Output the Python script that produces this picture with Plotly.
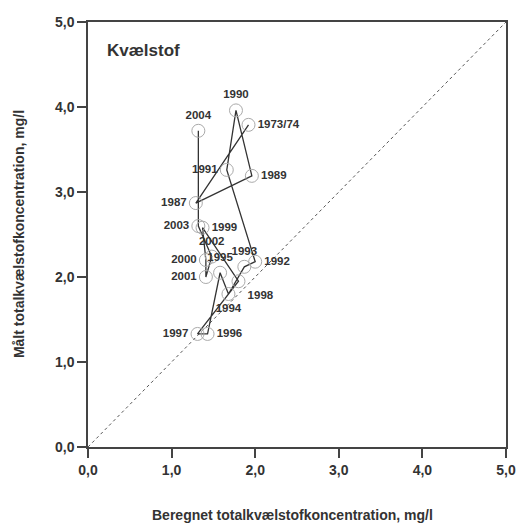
import plotly.graph_objects as go

years = ["1973/74", "1987", "1989", "1990", "1991", "1992", "1993", "1994", "1995",
         "1996", "1997", "1998", "1999", "2000", "2001", "2002", "2003", "2004"]
beregnet = [1.92, 1.29, 1.96, 1.77, 1.66, 2.00, 1.87, 1.68, 1.58,
            1.43, 1.31, 1.80, 1.37, 1.41, 1.41, 1.48, 1.32, 1.32]
maalt = [3.79, 2.87, 3.19, 3.96, 3.26, 2.18, 2.12, 1.80, 2.05,
         1.33, 1.33, 1.95, 2.58, 2.20, 2.00, 2.24, 2.60, 3.72]
label_pos = ["middle right", "middle left", "middle right", "top center", "middle left",
             "middle right", "top center", "bottom center", "top center",
             "middle right", "middle left", "bottom right", "middle right", "middle left",
             "middle left", "top center", "middle left", "top center"]
ticks = [0, 1, 2, 3, 4, 5]
tick_labels = ["0,0", "1,0", "2,0", "3,0", "4,0", "5,0"]

font_family = "Liberation Sans, Arial, sans-serif"
fig = go.Figure()

# 1:1 line
fig.add_trace(go.Scatter(x=[0, 5], y=[0, 5], mode="lines",
                         line=dict(color="#555", width=1, dash="dot"),
                         hoverinfo="skip", showlegend=False))
# connecting line
fig.add_trace(go.Scatter(x=beregnet, y=maalt, mode="lines",
                         line=dict(color="#333", width=1.3),
                         showlegend=False))
# circles with labels
fig.add_trace(go.Scatter(x=beregnet, y=maalt, mode="markers+text",
                         marker=dict(symbol="circle-open", size=13,
                                     color="#aaa", line=dict(width=1, color="#aaa")),
                         text=years, textposition=label_pos,
                         textfont=dict(family=font_family, size=11.5, color="#333", weight="bold"),
                         showlegend=False))

axis_common = dict(range=[0, 5], tickvals=ticks, ticktext=tick_labels,
                   showgrid=False, zeroline=False, showline=True, mirror=True,
                   linecolor="#444", linewidth=1.5, ticks="outside", ticklen=9,
                   tickwidth=1.5, tickcolor="#444",
                   tickfont=dict(family=font_family, size=14, color="#333", weight="bold"))
fig.update_xaxes(**axis_common)
fig.update_yaxes(**axis_common)

fig.update_layout(
    width=528, height=525,
    margin=dict(l=88, r=18, t=22, b=78),
    plot_bgcolor="white", paper_bgcolor="white",
    annotations=[
        dict(text="Kvælstof", x=0.2, y=4.66, xref="x", yref="y", showarrow=False,
             xanchor="left", yanchor="middle",
             font=dict(family=font_family, size=17, color="#333", weight="bold")),
        dict(text="Beregnet totalkvælstofkoncentration, mg/l", x=0.49, y=-0.16,
             xref="paper", yref="paper", showarrow=False, xanchor="center", yanchor="middle",
             font=dict(family=font_family, size=14, color="#333", weight="bold")),
        dict(text="Målt totalkvælstofkoncentration, mg/l", x=-0.166, y=0.5,
             xref="paper", yref="paper", showarrow=False, xanchor="center", yanchor="middle",
             textangle=-90,
             font=dict(family=font_family, size=14, color="#333", weight="bold")),
    ],
)

fig.write_html("out.html")
